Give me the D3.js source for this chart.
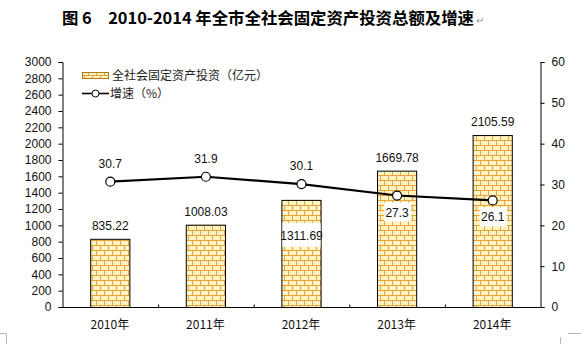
<!DOCTYPE html>
<html><head><meta charset="utf-8">
<script src="https://cdn.jsdelivr.net/npm/d3@7"></script>
<style>
html,body{margin:0;padding:0;background:#fff;}
svg{display:block;}
</style></head>
<body>
<svg id="c" width="581" height="344"></svg>
<script>
const categories = ["2010年","2011年","2012年","2013年","2014年"];
const investment = [835.22, 1008.03, 1311.69, 1669.78, 2105.59];
const growth = [30.7, 31.9, 30.1, 27.3, 26.1];
const leftTicks = d3.range(0, 3001, 200);
const rightTicks = d3.range(0, 61, 10);
const barLabelPlace = ["above","above","inside","above","above"];
const lineLabelPlace = ["above","above","above","below","below"];
const titleText = "图 6　2010-2014 年全市全社会固定资产投资总额及增速";
const legendNames = ["全社会固定资产投资（亿元）","增速（%）"];

const svg = d3.select("#c");
const numFont = "'Liberation Sans', Arial, sans-serif";
const cjkFont = "'Noto Sans CJK SC', sans-serif";

const L = 62, R = 540, T = 62, B = 307;
const x = d3.scaleBand().domain(categories).range([L, R]).paddingInner(0.59).paddingOuter(0.295);
const yL = d3.scaleLinear().domain([0, 3000]).range([B, T]);
const yR = d3.scaleLinear().domain([0, 60]).range([B, T]);

// pattern
const defs = svg.append("defs");
const pat = defs.append("pattern").attr("id","brick").attr("patternUnits","userSpaceOnUse")
  .attr("width",8).attr("height",10);
pat.append("rect").attr("width",8).attr("height",10).attr("fill","#FFF3C4");
pat.append("path").attr("d","M0,0.5H8M0,5.5H8M0.5,0V5M4.5,5V10")
  .attr("stroke","#E8A43A").attr("stroke-width",1).attr("fill","none");

// title
const title = svg.append("text").attr("x", 62).attr("y", 24)
  .attr("font-family", cjkFont).attr("font-size", 16.4).attr("font-weight", "bold")
  .attr("fill", "#000").text(titleText);
const tw = title.node().getComputedTextLength();
svg.append("text").attr("x", 62 + tw + 2).attr("y", 24)
  .attr("font-family", cjkFont).attr("font-size", 10).attr("fill", "#999").text("↵");

// bars
svg.append("g").selectAll("rect").data(investment).join("rect")
  .attr("x", (d,i) => x(categories[i]) + 0.5)
  .attr("y", d => yL(d) + 0.5)
  .attr("width", x.bandwidth())
  .attr("height", d => B - yL(d))
  .attr("fill", "url(#brick)")
  .attr("stroke", "#000").attr("stroke-width", 1);

// axes
const gL = svg.append("g").attr("transform", `translate(${L+0.5},0)`)
  .call(d3.axisLeft(yL).tickValues(leftTicks).tickSize(4).tickPadding(7).tickFormat(d3.format("d")));
const gR = svg.append("g").attr("transform", `translate(${R+0.5},0)`)
  .call(d3.axisRight(yR).tickValues(rightTicks).tickSize(4).tickPadding(7).tickFormat(d3.format("d")));
const gB = svg.append("g").attr("transform", `translate(0,${B+0.5})`)
  .call(d3.axisBottom(x).tickSize(0).tickPadding(13));
const bounds = d3.scaleLinear().domain([0, categories.length]).range([L, R]);
svg.append("g").attr("transform", `translate(0.5,${B+0.5})`)
  .call(d3.axisBottom(bounds).tickValues(d3.range(1, categories.length)).tickSize(-3).tickFormat(""))
  .call(g => g.select(".domain").remove());
[gL, gR].forEach(g => {
  g.selectAll("text").attr("font-family", numFont).attr("font-size", 12).attr("fill", "#111");
  g.selectAll("line,path").attr("stroke", "#000");
});
gB.selectAll("text").attr("font-family", cjkFont).attr("font-size", 12).attr("fill", "#111");
gB.select(".domain").attr("stroke", "#000").attr("d", `M${L},0H${R}`);
svg.selectAll(".tick line").attr("stroke", "#000");

// bar labels
const cx = i => x(categories[i]) + x.bandwidth()/2 + 0.5;
const barLab = svg.append("g");
investment.forEach((d, i) => {
  if (barLabelPlace[i] === "inside") {
    barLab.append("rect").attr("x", x(categories[i]) + 1).attr("y", yL(d) + 23)
      .attr("width", x.bandwidth() - 1).attr("height", 24).attr("fill", "#fff");
    barLab.append("text").attr("x", cx(i)).attr("y", yL(d) + 40).attr("text-anchor","middle")
      .attr("font-family", numFont).attr("font-size", 12).attr("fill","#111").text(d.toFixed(2));
  } else {
    barLab.append("text").attr("x", cx(i)).attr("y", yL(d) - 9).attr("text-anchor","middle")
      .attr("font-family", numFont).attr("font-size", 12).attr("fill","#111").text(d.toFixed(2));
  }
});

// line
const line = d3.line().x((d,i) => cx(i)).y(d => yR(d));
svg.append("path").datum(growth).attr("d", line).attr("fill","none")
  .attr("stroke","#000").attr("stroke-width", 2.2);
svg.append("g").selectAll("circle").data(growth).join("circle")
  .attr("cx", (d,i) => cx(i)).attr("cy", d => yR(d)).attr("r", 4.5)
  .attr("fill", "#fff").attr("stroke", "#000").attr("stroke-width", 1.2);

// line labels
const lineLab = svg.append("g");
growth.forEach((d, i) => {
  if (lineLabelPlace[i] === "below") {
    lineLab.append("rect").attr("x", cx(i) - 13).attr("y", yR(d) + 7)
      .attr("width", 27).attr("height", 19).attr("fill", "#fff");
    lineLab.append("text").attr("x", cx(i)).attr("y", yR(d) + 21).attr("text-anchor","middle")
      .attr("font-family", numFont).attr("font-size", 12).attr("fill","#111").text(d.toFixed(1));
  } else {
    lineLab.append("text").attr("x", cx(i)).attr("y", yR(d) - 14).attr("text-anchor","middle")
      .attr("font-family", numFont).attr("font-size", 12).attr("fill","#111").text(d.toFixed(1));
  }
});

// legend
const lg = svg.append("g");
lg.append("rect").attr("x", 82.5).attr("y", 72.5).attr("width", 26).attr("height", 6)
  .attr("fill", "url(#brick)").attr("stroke", "#B07818").attr("stroke-width", 1);
lg.append("text").attr("x", 112).attr("y", 80).attr("font-family", cjkFont).attr("font-size", 12)
  .attr("fill", "#222").text(legendNames[0]);
lg.append("line").attr("x1", 82).attr("x2", 109).attr("y1", 93.5).attr("y2", 93.5)
  .attr("stroke", "#000").attr("stroke-width", 1.6);
lg.append("circle").attr("cx", 95.5).attr("cy", 93.5).attr("r", 3.5)
  .attr("fill", "#fff").attr("stroke", "#000").attr("stroke-width", 1);
lg.append("text").attr("x", 110).attr("y", 98).attr("font-family", cjkFont).attr("font-size", 12)
  .attr("fill", "#222").text(legendNames[1]);

// page corner marks
svg.append("path").attr("d", "M0,333.5H6.5V344M560.5,337V344M568,333.5H581")
  .attr("fill","none").attr("stroke","#b8b8b8").attr("stroke-width",1);
</script>
</body></html>
